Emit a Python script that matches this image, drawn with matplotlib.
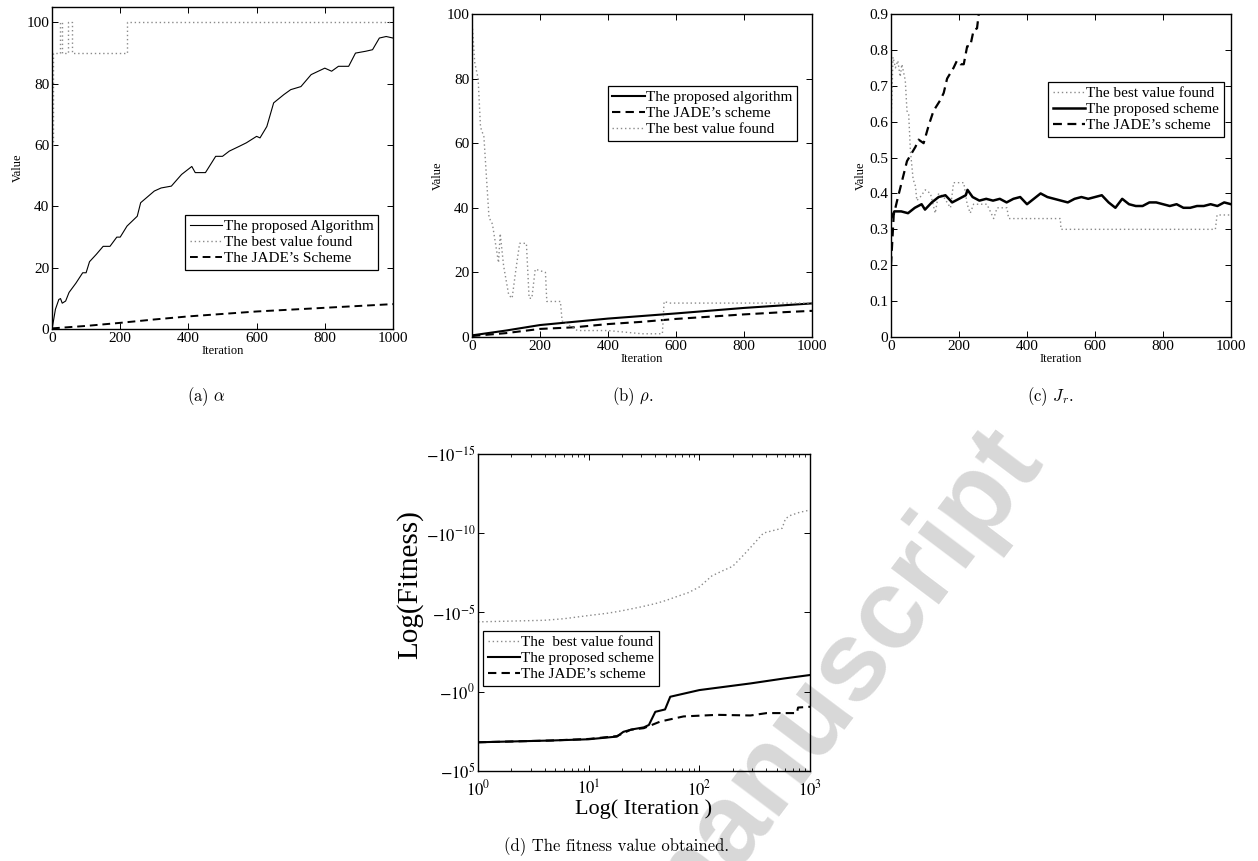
import matplotlib
matplotlib.use('Agg')
import matplotlib.pyplot as plt
import numpy as np

W, H = 1258, 861

# ---- (a) alpha ----
a_iter = [0, 5, 10, 20, 25, 30, 40, 50, 70, 90, 100, 110, 130, 150, 170, 190, 200, 220, 250,
          260, 300, 320, 350, 380, 410, 420, 450, 480, 500, 520, 550, 570, 600, 610, 630, 650,
          680, 700, 730, 760, 800, 820, 840, 870, 890, 920, 940, 960, 980, 1000]
a_prop = [0, 3.2, 6.5, 9.7, 10, 8.5, 9.2, 12, 15, 18.4, 18.4, 22, 24.4, 27, 27, 30, 30, 33.6, 36.8,
          41.2, 45, 46, 46.6, 50.4, 53, 51, 51, 56.3, 56.3, 58, 59.6, 60.7, 62.8, 62.3, 66, 73.7,
          76.4, 78, 79, 82.9, 85, 84, 85.6, 85.6, 89.9, 90.5, 91, 94.8, 95.3, 94.8]
a_best_iter = [0, 3, 22, 30, 48, 58, 220, 1000]
a_best = [60, 90, 100, 90, 100, 90, 100, 100]
a_jade_iter = [0, 100, 200, 300, 400, 500, 600, 700, 800, 900, 1000]
a_jade = [0.3, 1.1, 2.1, 3.2, 4.2, 5.0, 5.8, 6.4, 7.0, 7.6, 8.2]

# ---- (b) rho ----
b_prop_iter = [0, 100, 200, 400, 600, 800, 1000]
b_prop = [0.5, 2.0, 3.7, 5.7, 7.3, 9.0, 10.4]
b_jade_iter = [0, 100, 200, 300, 400, 500, 600, 700, 800, 900, 1000]
b_jade = [0.3, 1.2, 2.5, 3.0, 4.0, 4.7, 5.6, 6.3, 7.0, 7.6, 8.1]
b_best_iter = [0, 8, 18, 25, 35, 50, 60, 78, 83, 93, 108, 118, 128, 140, 160, 168, 176, 186,
               216, 220, 260, 265, 310, 320, 400, 500, 560, 565, 580, 1000]
b_best = [98, 85, 80, 65, 62, 37, 35, 23, 32, 22, 13, 12, 20, 29, 29, 12, 12, 21,
          20, 11, 11, 5, 2, 2, 2, 1, 1, 11, 10.5, 10.5]

# ---- (c) J_r ----
c_prop_iter = [0, 10, 30, 50, 70, 90, 100, 120, 140, 160, 180, 200, 220, 225, 240, 260, 280, 300,
               320, 340, 360, 380, 400, 420, 440, 460, 480, 500, 520, 540, 560, 580, 600, 620, 640,
               660, 680, 700, 720, 740, 760, 780, 800, 820, 840, 860, 880, 900, 920, 940, 960, 980, 1000]
c_prop = [0.33, 0.35, 0.35, 0.345, 0.36, 0.37, 0.355, 0.375, 0.39, 0.395, 0.375, 0.385, 0.395, 0.41,
          0.39, 0.38, 0.385, 0.38, 0.385, 0.375, 0.385, 0.39, 0.37, 0.385, 0.40, 0.39, 0.385, 0.38,
          0.375, 0.385, 0.39, 0.385, 0.39, 0.395, 0.375, 0.36, 0.385, 0.37, 0.365, 0.365, 0.375,
          0.375, 0.37, 0.365, 0.37, 0.36, 0.36, 0.365, 0.365, 0.37, 0.365, 0.375, 0.37]
c_jade_iter = [0, 8, 18, 47, 72, 81, 96, 111, 125, 145, 155, 165, 184, 194, 204, 214, 224, 233,
               243, 253, 258, 270]
c_jade = [0.2, 0.34, 0.38, 0.49, 0.53, 0.55, 0.54, 0.59, 0.63, 0.66, 0.68, 0.72, 0.75, 0.77,
          0.76, 0.76, 0.81, 0.81, 0.855, 0.86, 0.9, 0.94]
c_best_iter = [0, 6, 13, 20, 27, 32, 42, 47, 52, 57, 65, 72, 76, 86, 101, 116, 130, 140, 155, 175,
               184, 214, 224, 233, 243, 282, 302, 312, 341, 346, 498, 500, 954, 959, 1000]
c_best = [0.59, 0.78, 0.75, 0.77, 0.725, 0.76, 0.715, 0.63, 0.62, 0.52, 0.44, 0.42, 0.38, 0.39,
          0.41, 0.40, 0.345, 0.40, 0.39, 0.36, 0.43, 0.43, 0.37, 0.345, 0.37, 0.37, 0.33, 0.36,
          0.36, 0.33, 0.33, 0.30, 0.30, 0.34, 0.34]

# ---- (d) fitness (exponent of |fitness|, fitness is negative) ----
d_best_iter = [1, 2, 4, 6, 10, 15, 20, 30, 40, 50, 60, 80, 100, 130, 160, 200, 250, 300, 380,
               560, 600, 660, 800, 1000]
d_best_exp = [-4.4, -4.45, -4.5, -4.6, -4.8, -4.95, -5.1, -5.35, -5.55, -5.75, -5.95, -6.25, -6.6,
              -7.3, -7.6, -7.9, -8.6, -9.2, -10.0, -10.3, -10.9, -11.1, -11.3, -11.45]
d_prop_iter = [1, 4.5, 10, 18, 20.6, 24.6, 31.5, 35, 40, 49, 54.6, 63, 100, 290, 580, 1000]
d_prop_exp = [3.19, 3.08, 3.0, 2.83, 2.53, 2.38, 2.25, 2.1, 1.27, 1.12, 0.32, 0.22, -0.1, -0.52,
              -0.83, -1.05]
d_jade_iter = [1, 4.5, 10, 18, 24, 31.5, 44.5, 72, 145, 290, 406, 760, 780, 1000]
d_jade_exp = [3.19, 3.08, 2.98, 2.8, 2.4, 2.3, 1.88, 1.56, 1.46, 1.5, 1.35, 1.35, 1.0, 0.95]

plt.rcParams['font.family'] = ['Liberation Serif', 'DejaVu Serif']
plt.rcParams['mathtext.fontset'] = 'stix'

GRAY = '#8a8a8a'
DOT = (0, (1, 2))
DASH = (0, (4, 2.5))

fig = plt.figure(figsize=(W / 100, H / 100), dpi=100)


def px_axes(l, t, r, b):
    return fig.add_axes([l / W, 1 - b / H, (r - l) / W, (b - t) / H])


def style(ax, size=11):
    ax.patch.set_alpha(0)
    for s in ax.spines.values():
        s.set_linewidth(1.0)
    ax.tick_params(which='both', direction='in', top=True, right=True, labelsize=size, pad=2)
    ax.tick_params(which='major', length=4, width=0.7)
    ax.tick_params(which='minor', length=2.5, width=0.6)


def leg(ax, handles, labels, loc, anchor):
    l = ax.legend(handles, labels, loc=loc, bbox_to_anchor=anchor, fontsize=11,
                  fancybox=False, framealpha=1, edgecolor='black', borderaxespad=0,
                  handlelength=2.1, handletextpad=0.1, labelspacing=0.15, borderpad=0.3)
    l.get_frame().set_linewidth(0.9)


# (a)
ax = px_axes(52, 6.7, 393, 329.3)
p1, = ax.plot(a_iter, a_prop, color='black', lw=0.8)
p2, = ax.plot(a_best_iter, a_best, color=GRAY, lw=1, ls=DOT, drawstyle='steps-post')
p3, = ax.plot(a_jade_iter, a_jade, color='black', lw=1.4, ls=DASH)
ax.set_xlim(0, 1000)
ax.set_ylim(0, 105)
ax.set_xticks(range(0, 1001, 200))
ax.set_yticks(range(0, 101, 20))
style(ax)
ax.set_xlabel('Iteration', fontsize=9, labelpad=0)
ax.set_ylabel('Value', fontsize=9, labelpad=2)
leg(ax, [p1, p2, p3], ['The proposed Algorithm', 'The best value found', 'The JADE\u2019s Scheme'],
    'upper right', (0.956, 0.354))

# (b)
ax = px_axes(472, 14, 812, 337)
p1, = ax.plot(b_prop_iter, b_prop, color='black', lw=1.5)
p2, = ax.plot(b_jade_iter, b_jade, color='black', lw=1.5, ls=DASH)
p3, = ax.plot(b_best_iter, b_best, color=GRAY, lw=1, ls=DOT)
ax.set_xlim(0, 1000)
ax.set_ylim(0, 100)
ax.set_xticks(range(0, 1001, 200))
ax.set_yticks(range(0, 101, 20))
style(ax)
ax.set_xlabel('Iteration', fontsize=9, labelpad=0)
ax.set_ylabel('Value', fontsize=9, labelpad=2)
leg(ax, [p1, p2, p3], ['The proposed algorithm', 'The JADE\u2019s scheme', 'The best value found'],
    'upper right', (0.956, 0.777))

# (c)
ax = px_axes(891, 14, 1231, 337)
p1, = ax.plot(c_best_iter, c_best, color=GRAY, lw=1, ls=DOT)
p2, = ax.plot(c_prop_iter, c_prop, color='black', lw=1.8)
p3, = ax.plot(c_jade_iter, c_jade, color='black', lw=1.6, ls=DASH)
ax.set_xlim(0, 1000)
ax.set_ylim(0, 0.9)
ax.set_xticks(range(0, 1001, 200))
yt = [0, 0.1, 0.2, 0.3, 0.4, 0.5, 0.6, 0.7, 0.8, 0.9]
ax.set_yticks(yt)
ax.set_yticklabels(['0'] + ['%.1f' % v for v in yt[1:]])
style(ax)
ax.set_xlabel('Iteration', fontsize=9, labelpad=0)
ax.set_ylabel('Value', fontsize=9, labelpad=2)
leg(ax, [p1, p2, p3], ['The best value found', 'The proposed scheme', 'The JADE\u2019s scheme'],
    'upper right', (0.979, 0.789))

# (d)
ax = px_axes(478, 453.7, 810, 771)
p1, = ax.plot(d_best_iter, 10.0 ** np.array(d_best_exp), color=GRAY, lw=1, ls=DOT)
p2, = ax.plot(d_prop_iter, 10.0 ** np.array(d_prop_exp), color='black', lw=1.5)
p3, = ax.plot(d_jade_iter, 10.0 ** np.array(d_jade_exp), color='black', lw=1.5, ls=DASH)
ax.set_xscale('log')
ax.set_yscale('log')
ax.set_xlim(1, 1000)
ax.set_ylim(1e5, 1e-15)
ax.set_xticks([1, 10, 100, 1000])
ax.set_xticklabels([r'$10^{%d}$' % k for k in range(4)])
yk = [-15, -10, -5, 0, 5]
ax.set_yticks([10.0 ** k for k in yk])
ax.set_yticklabels([r'$-10^{%d}$' % k for k in yk])
ax.yaxis.set_minor_locator(matplotlib.ticker.NullLocator())
style(ax, 12)
ax.tick_params(axis='x', which='both', pad=6)
ax.set_xlabel('Log( Iteration )', fontsize=16, labelpad=0)
ax.set_ylabel('Log(Fitness)', fontsize=21)
ax.yaxis.set_label_coords(-0.166, 0.586)
leg(ax, [p1, p2, p3], ['The  best value found', 'The proposed scheme', 'The JADE\u2019s scheme'],
    'upper left', (0.015, 0.441))

# captions
cap = dict(family='cmr10', math_fontfamily='cm', fontsize=12, ha='center', va='center')
fig.text(206 / W, 1 - 397 / H, r'(a) $\alpha$', **cap)
fig.text(633 / W, 1 - 397 / H, r'(b) $\rho$.', **cap)
fig.text(1050 / W, 1 - 397 / H, r'(c) $J_r$.', **cap)
fig.text(617 / W, 1 - 847 / H, '(d) The fitness value obtained.', **cap)

# watermark
fig.text(835 / W, 1 - 685 / H, 'manuscript', rotation=53, rotation_mode='anchor',
         ha='center', va='center', color='#d8d8d8', fontsize=82, fontweight='bold',
         family='Liberation Sans', zorder=-1)

fig.savefig('out.png', dpi=100)
